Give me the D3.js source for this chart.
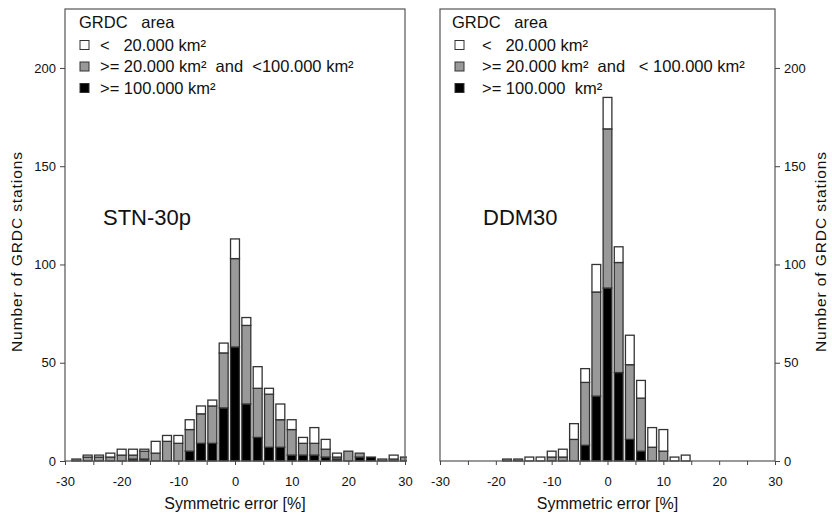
<!DOCTYPE html>
<html><head><meta charset="utf-8">
<script src="https://cdn.jsdelivr.net/npm/d3@7"></script>
<style>body{margin:0;background:#fff}svg{display:block}text{font-family:"Liberation Sans",Arial,Helvetica,sans-serif;fill:#111}</style>
</head><body><svg id="c" width="832" height="520"></svg>
<script>
// bin centres (symmetric error, %), bin width 2
const binsLeft = [-28,-26,-24,-22,-20,-18,-16,-14,-12,-10,-8,-6,-4,-2,0,2,4,6,8,10,12,14,16,18,20,22,24,26,28,30];
// STN-30p counts by catchment area class
const stnLarge  = [0,0,0,0,0,1,1,0,0,0,5,9,9,27,58,29,12,7,7,3,3,3,2,1,0,2,2,0,0,0];
const stnMedium = [1,2,2,2,3,2,4,4,10,9,11,15,19,28,45,40,25,27,14,13,6,6,4,1,5,2,0,1,1,2];
const stnSmall  = [0,1,1,2,3,3,1,6,3,4,5,4,3,5,10,4,11,3,8,5,3,8,5,2,0,0,0,0,2,0];

const binsRight = [-18,-16,-14,-12,-10,-8,-6,-4,-2,0,2,4,6,8,10,12,14];
// DDM30 counts by catchment area class
const ddmLarge  = [0,0,0,0,0,0,0,8,33,88,45,11,5,0,0,0,0];
const ddmMedium = [1,1,0,0,2,2,11,32,53,81,56,38,27,7,5,0,0];
const ddmSmall  = [0,0,2,2,3,4,8,7,14,16,8,15,9,10,11,2,3];

const xTicks = [-30,-20,-10,0,10,20,30];
const yTicks = [0,50,100,150,200];
const legendTitle = "GRDC   area";
const classNamesLeft  = ["<   20.000 km²", ">= 20.000 km²  and  <100.000 km²", ">= 100.000 km²"];
const classNamesRight = ["<   20.000 km²", ">= 20.000 km²  and   < 100.000 km²", ">= 100.000  km²"];
const classColors = ["#ffffff", "#999999", "#000000"];

const svg = d3.select("#c");

function panel(opt){
  const g = svg.append("g");
  const x = d3.scaleLinear().domain([-30,30]).range([opt.x0, opt.x1]);
  const y = d3.scaleLinear().domain([0,230]).range([461, 9]);
  const id = "clip"+opt.key;
  svg.append("clipPath").attr("id", id).append("rect")
     .attr("x", opt.x0).attr("y", 0).attr("width", opt.x1 - opt.x0 + 2).attr("height", 470);

  // stacked bars
  const rows = opt.bins.map((c,i)=>({c, large:opt.large[i], medium:opt.medium[i], small:opt.small[i]}));
  const stack = d3.stack().keys(["large","medium","small"])(rows);
  const fills = {large:classColors[2], medium:classColors[1], small:classColors[0]};
  const bars = g.append("g").attr("clip-path", `url(#${id})`);
  stack.forEach(layer=>{
    bars.selectAll(null).data(layer.filter(d=>d[1]>d[0])).join("rect")
      .attr("x", d=>x(d.data.c-1)+1.2)
      .attr("width", d=>x(d.data.c+1)-x(d.data.c-1)-2.4)
      .attr("y", d=>y(d[1]))
      .attr("height", d=>y(d[0])-y(d[1]))
      .attr("fill", fills[layer.key])
      .attr("stroke", "#333").attr("stroke-width", 1.3);
  });

  // frame
  g.append("rect").attr("x", opt.x0).attr("y", 9).attr("width", opt.x1-opt.x0).attr("height", 452)
    .attr("fill","none").attr("stroke","#555").attr("stroke-width",1.2);

  // x axis
  const xa = g.append("g").attr("transform","translate(0,461)")
    .call(d3.axisBottom(x).tickValues(d3.range(-30,31,5)).tickSize(4).tickFormat(""));
  xa.select(".domain").remove();
  xa.selectAll("line").attr("stroke","#444");
  const xl = g.append("g").attr("transform","translate(0,461)")
    .call(d3.axisBottom(x).tickValues(xTicks).tickSize(0).tickPadding(16).tickFormat(d=>d));
  xl.select(".domain").remove();
  xl.selectAll("text").attr("font-size",13).attr("font-family",null).attr("fill","#111");

  // y axis
  const yAxis = opt.yRight ? d3.axisRight(y) : d3.axisLeft(y);
  const ya = g.append("g").attr("transform",`translate(${opt.yRight?opt.x1:opt.x0},0)`)
    .call(yAxis.tickValues(yTicks).tickSize(5).tickPadding(4));
  ya.select(".domain").remove();
  ya.selectAll("line").attr("stroke","#444");
  ya.selectAll("text").attr("font-size",13).attr("font-family",null).attr("fill","#111");

  // axis titles
  g.append("text").attr("x",(opt.x0+opt.x1)/2).attr("y",509).attr("text-anchor","middle")
    .attr("font-size",16).text("Symmetric error [%]");
  g.append("text").attr("transform",`translate(${opt.yTitleX},252) rotate(-90)`)
    .attr("text-anchor","middle").attr("font-size",15.5)
    .attr("textLength",200).attr("lengthAdjust","spacing").text("Number of GRDC stations");

  // model label
  g.append("text").attr("x",opt.labelX).attr("y",225).attr("font-size",22).text(opt.key);

  // legend
  const lx = opt.x0;
  g.append("text").attr("x",lx+opt.lgTitle).attr("y",28).attr("font-size",16.5).style("white-space","pre").text(legendTitle);
  [0,1,2].forEach(i=>{
    const cy = 45 + i*21.5;
    g.append("rect").attr("x",lx+opt.lgBox).attr("y",cy-4.5).attr("width",9).attr("height",9)
      .attr("fill",classColors[i]).attr("stroke","#333").attr("stroke-width",1);
    g.append("text").attr("x",lx+opt.lgText).attr("y",cy+5.5).attr("font-size",16.5)
      .style("white-space","pre").text(opt.names[i]);
  });
}

panel({key:"STN-30p", x0:65, x1:405, bins:binsLeft, large:stnLarge, medium:stnMedium, small:stnSmall,
  yRight:false, yTitleX:22, labelX:103, lgTitle:14, lgBox:15, lgText:35, names:classNamesLeft});
panel({key:"DDM30", x0:440, x1:775, bins:binsRight, large:ddmLarge, medium:ddmMedium, small:ddmSmall,
  yRight:true, yTitleX:826, labelX:483, lgTitle:12, lgBox:15, lgText:42, names:classNamesRight});
</script></body></html>
